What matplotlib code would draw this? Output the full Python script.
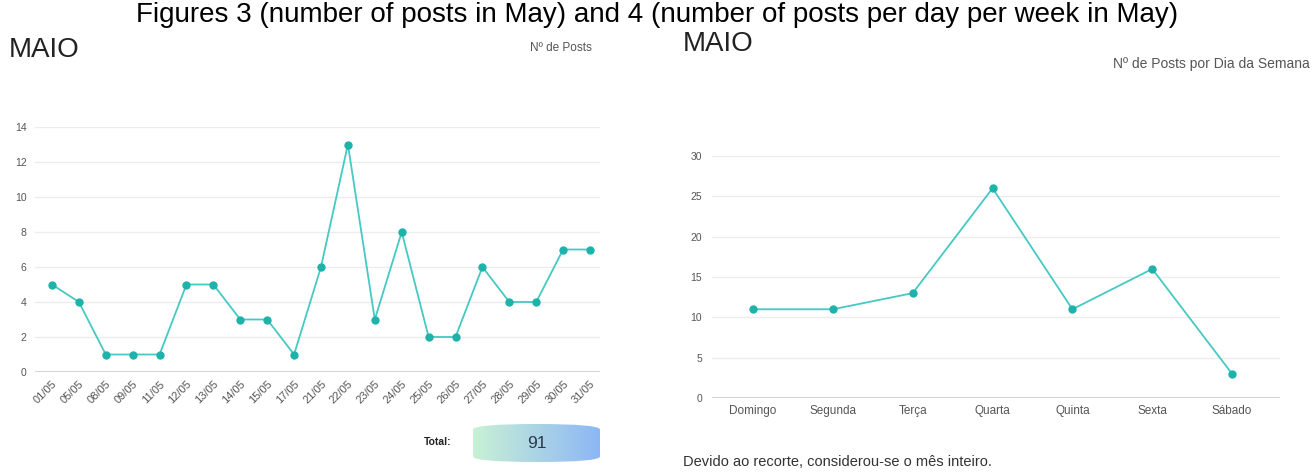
import numpy as np
import matplotlib
matplotlib.use('Agg')
import matplotlib.pyplot as plt
from matplotlib.patches import FancyBboxPatch

plt.rcParams['font.family'] = ['Liberation Sans', 'DejaVu Sans']

## Data
dias = ['01/05', '05/05', '08/05', '09/05', '11/05', '12/05', '13/05', '14/05',
        '15/05', '17/05', '21/05', '22/05', '23/05', '24/05', '25/05', '26/05',
        '27/05', '28/05', '29/05', '30/05', '31/05']
posts = [5, 4, 1, 1, 1, 5, 5, 3, 3, 1, 6, 13, 3, 8, 2, 2, 6, 4, 4, 7, 7]

semana = ['Domingo', 'Segunda', 'Terça', 'Quarta', 'Quinta', 'Sexta', 'Sábado']
posts_semana = [11, 11, 13, 26, 11, 16, 3]

total = 91

line_col = '#45c9c2'
dot_col = '#1db3ab'
grid_col = '#ececec'
tick_col = '#555555'

W, H = 1314, 473
fig = plt.figure(figsize=(W / 100, H / 100), dpi=100)


def px(x0, y0, x1, y1):
    # pixel box -> figure fraction
    return [x0 / W, (H - y1) / H, (x1 - x0) / W, (y1 - y0) / H]


def style(ax):
    for s in ax.spines.values():
        s.set_visible(False)
    ax.grid(axis='y', color=grid_col, linewidth=1)
    ax.set_axisbelow(True)
    ax.tick_params(length=0, labelsize=7.5, labelcolor=tick_col)
    ax.axhline(0, color='#d6d6d6', linewidth=1.5, zorder=1)


# left chart
ax1 = fig.add_axes(px(35, 127, 600, 372))
x1 = np.arange(len(dias))
ax1.plot(x1, posts, color=line_col, linewidth=1.3, marker='o',
         markersize=5, markerfacecolor=dot_col, markeredgecolor=dot_col, clip_on=False)
ax1.set_xlim(-0.63, 20.37)
ax1.set_ylim(0, 14)
ax1.set_yticks(range(0, 15, 2))
ax1.set_xticks(x1)
ax1.set_xticklabels(dias, rotation=45, ha='right', rotation_mode='anchor')
style(ax1)
ax1.tick_params(axis='y', pad=6)
ax1.tick_params(axis='x', labelsize=8, pad=5)

# right chart
ax2 = fig.add_axes(px(712, 156, 1280, 398))
x2 = np.arange(len(semana))
ax2.plot(x2, posts_semana, color=line_col, linewidth=1.3, marker='o',
         markersize=5, markerfacecolor=dot_col, markeredgecolor=dot_col, clip_on=False)
ax2.set_xlim(-0.514, 6.6)
ax2.set_ylim(0, 30)
ax2.set_yticks(range(0, 31, 5))
ax2.set_xticks(x2)
ax2.set_xticklabels(semana)
style(ax2)
ax2.tick_params(axis='y', pad=7)
ax2.tick_params(axis='x', labelsize=8.5, pad=5)

# texts
fig.text(657 / W, 1 - 22 / H, 'Figures 3 (number of posts in May) and 4 (number of posts per day per week in May)',
         ha='center', va='baseline', fontsize=20)
fig.text(9 / W, 1 - 57 / H, 'MAIO', ha='left', va='baseline', fontsize=20, color='#222222')
fig.text(683 / W, 1 - 51 / H, 'MAIO', ha='left', va='baseline', fontsize=20, color='#222222')
fig.text(592 / W, 1 - 48 / H, 'Nº de Posts', ha='right', va='center', fontsize=8.5, color='#555555')
fig.text(1310 / W, 1 - 64 / H, 'Nº de Posts por Dia da Semana', ha='right', va='center',
         fontsize=10, color='#555555')
fig.text(683 / W, 1 - 462 / H, 'Devido ao recorte, considerou-se o mês inteiro.', ha='left',
         va='center', fontsize=10.5, color='#333333')
fig.text(452 / W, 1 - 442 / H, 'Total:', ha='right', va='center', fontsize=7.5,
         fontweight='bold', color='#222222')

# total pill with gradient
axp = fig.add_axes(px(473, 424, 600, 462))
axp.set_xlim(0, 1)
axp.set_ylim(0, 1)
axp.axis('off')
grad = np.linspace(0, 1, 256).reshape(1, -1)
cmap = matplotlib.colors.LinearSegmentedColormap.from_list('pill', ['#c9f1d6', '#8db7f5'])
img = axp.imshow(grad, extent=[0, 1, 0, 1], aspect='auto', cmap=cmap)
pill = FancyBboxPatch((0.0, 0.0), 1, 1, boxstyle='round,pad=0,rounding_size=0.5',
                      mutation_aspect=1 / 3.4, transform=axp.transData,
                      facecolor='none', edgecolor='none')
axp.add_patch(pill)
img.set_clip_path(pill)
axp.text(0.5, 0.5, str(total), ha='center', va='center', fontsize=12.5, color='#2a3a4a')

fig.savefig('out.png', dpi=100)
